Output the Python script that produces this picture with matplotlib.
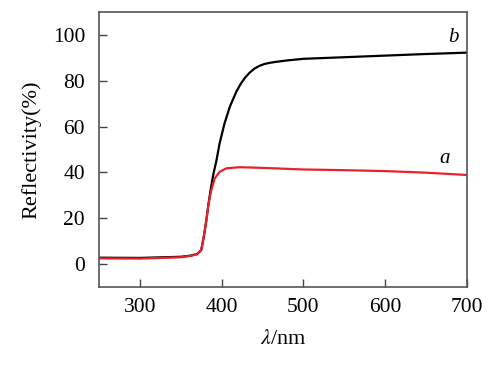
import matplotlib
matplotlib.use("Agg")
import matplotlib.pyplot as plt

plt.rcParams['font.family'] = ['Liberation Serif', 'DejaVu Serif']
plt.rcParams['mathtext.fontset'] = 'stix'

# wavelength (nm) and reflectivity (%)
wl_b = [250, 300, 350, 362, 370, 375, 378, 381, 384, 387, 390, 393.5, 397.5,
        403.5, 410, 418, 423, 428, 434, 440, 446, 452, 458, 465, 480, 500,
        550, 600, 650, 700]
refl_b = [2.8, 2.7, 3.2, 3.7, 4.4, 6.1, 11.5, 18.5, 26.5, 33.5, 39.5, 45, 52.7,
          61.4, 68.7, 75.3, 78.5, 81.1, 83.5, 85.3, 86.5, 87.3, 87.8, 88.2,
          88.9, 89.6, 90.3, 91, 91.7, 92.3]

wl_a = [250, 300, 350, 362, 370, 375, 378, 381.3, 384, 387.4, 391.5, 397.6,
        405.7, 422, 450, 500, 550, 600, 650, 700]
refl_a = [2.5, 2.4, 3.0, 3.6, 4.3, 6.1, 11.9, 19.2, 26.5, 32.3, 37.4, 40.3,
          41.8, 42.3, 42.0, 41.3, 41.0, 40.6, 39.9, 38.9]

fig = plt.figure(figsize=(4.96, 3.66), dpi=100)
ax = fig.add_axes([0.1996, 0.2158, 0.7419, 0.7512])

ax.plot(wl_b, refl_b, color='black', lw=1.6)
ax.plot(wl_a, refl_a, color='#e8212b', lw=1.6)

ax.text(684, 99, 'b', style='italic', fontsize=15, ha='center', va='center')
ax.text(673, 46, 'a', style='italic', fontsize=15, ha='center', va='center')

ax.set_xlim(250, 700)
ax.set_ylim(-10, 110)
ax.set_xticks([300, 400, 500, 600, 700])
ax.set_yticks([0, 20, 40, 60, 80, 100])
ax.tick_params(direction='in', length=6, width=1, color='#444444',
               labelsize=15.5)
ax.tick_params(axis='x', pad=8)
ax.tick_params(axis='y', pad=10)
for s in ax.spines.values():
    s.set_color('#555555')
    s.set_linewidth(1.2)

ax.set_ylabel('Reflectivity(%)', fontsize=16, labelpad=8)
ax.set_xlabel(r'$\mathit{\lambda}$/nm', fontsize=16, labelpad=9)

fig.savefig('out.png', dpi=100)
